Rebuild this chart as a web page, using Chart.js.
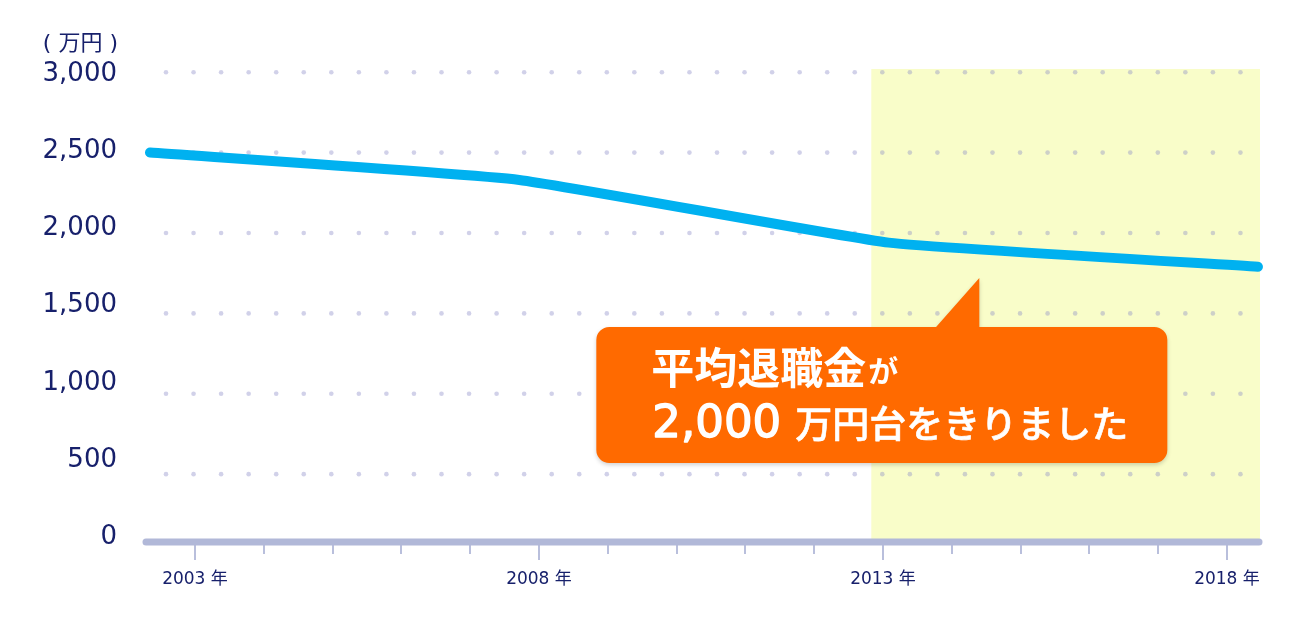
<!DOCTYPE html>
<html lang="ja">
<head>
<meta charset="utf-8">
<title>平均退職金の推移</title>
<script src="https://cdn.jsdelivr.net/npm/chart.js@4.4.1/dist/chart.umd.min.js"></script>
<style>
    html, body { margin: 0; padding: 0; background: #fff; }
    #wrap { width: 1300px; height: 620px; }
</style>
</head>
<body>
<div id="wrap"><canvas id="chart"></canvas></div>
<script>
// Data
const years = [2003, 2008, 2013, 2018];
const retirementPay = [2500, 2330, 1940, 1790];

// Axis labels / ticks
const yearTicks = [2003, 2008, 2013, 2018];
const minorYears = [2004, 2005, 2006, 2007, 2009, 2010, 2011, 2012, 2014, 2015, 2016, 2017];
const valueTicks = [0, 500, 1000, 1500, 2000, 2500, 3000];
const gridValues = [500, 1000, 1500, 2000, 2500, 3000];
const unitLabel = '( 万円 )';
const yearSuffix = ' 年';

// Highlighted period (from just before 2013 to the end)
const highlightFrom = 2012.83;

// Callout text and where its pointer tip sits (tick axis year, value)
const calloutTitle = '平均退職金';
const calloutTitleTail = 'が';
const calloutAmount = '2,000';
const calloutTail = '万円台をきりました';
const calloutTip = { year: 2014.4, value: 1720 };

const NAVY = '#17206b';

const decorPlugin = {
    id: 'decor',
    beforeDatasetsDraw(chart) {
        const { ctx, chartArea: a, scales } = chart;
        const xt = scales.x;
        const yd = scales.y;
        ctx.save();

        // yellow highlight band
        const bx = xt.getPixelForValue(highlightFrom);
        ctx.fillStyle = '#f9fdc9';
        ctx.fillRect(bx, a.top, a.right + 1 - bx, a.bottom - a.top);

        // dotted grid rows
        ctx.fillStyle = 'rgba(140, 140, 200, 0.4)';
        gridValues.forEach(v => {
            const y = yd.getPixelForValue(v);
            for (let x = a.left + 20; x < a.right - 10; x += 27.55) {
                ctx.beginPath();
                ctx.arc(x, y, 2.3, 0, Math.PI * 2);
                ctx.fill();
            }
        });

        // tick marks under the axis
        ctx.strokeStyle = '#b9bfdc';
        ctx.lineWidth = 2;
        yearTicks.concat(minorYears).forEach(yr => {
            const x = Math.round(xt.getPixelForValue(yr));
            const len = yearTicks.includes(yr) ? 18 : 12;
            ctx.beginPath();
            ctx.moveTo(x, a.bottom);
            ctx.lineTo(x, a.bottom + len);
            ctx.stroke();
        });

        // thick axis line
        ctx.strokeStyle = '#b1b8d8';
        ctx.lineWidth = 7;
        ctx.lineCap = 'round';
        ctx.beginPath();
        ctx.moveTo(a.left, a.bottom);
        ctx.lineTo(a.right, a.bottom);
        ctx.stroke();

        ctx.restore();
    },
    afterDraw(chart) {
        const { ctx, scales } = chart;
        ctx.save();

        // unit label
        ctx.fillStyle = NAVY;
        ctx.font = '22px "DejaVu Sans", "Noto Sans CJK JP"';
        ctx.textAlign = 'right';
        ctx.textBaseline = 'middle';
        ctx.fillText(unitLabel, 118, 44);

        // callout bubble
        const tx = scales.x.getPixelForValue(calloutTip.year);
        const ty = scales.y.getPixelForValue(calloutTip.value);
        const left = tx - 383, right = tx + 188;
        const top = ty + 49, bottom = ty + 185;

        ctx.shadowColor = 'rgba(0, 0, 0, 0.18)';
        ctx.shadowBlur = 4;
        ctx.shadowOffsetY = 2;
        ctx.fillStyle = '#ff6a00';
        ctx.beginPath();
        ctx.roundRect(left, top, right - left, bottom - top, 13);
        ctx.moveTo(tx, ty);
        ctx.lineTo(tx, top + 2);
        ctx.lineTo(tx - 45, top + 2);
        ctx.closePath();
        ctx.fill();
        ctx.shadowColor = 'transparent';

        ctx.fillStyle = '#fff';
        ctx.strokeStyle = '#fff';
        ctx.lineJoin = 'round';
        ctx.textAlign = 'left';
        ctx.textBaseline = 'alphabetic';
        let x = left + 55;
        ctx.font = 'bold 43px "Noto Sans CJK JP"';
        ctx.fillText(calloutTitle, x, top + 57);
        x += ctx.measureText(calloutTitle).width + 2;
        ctx.font = 'bold 30px "Noto Sans CJK JP"';
        ctx.fillText(calloutTitleTail, x, top + 55);

        x = left + 56;
        ctx.font = '45px "DejaVu Sans"';
        ctx.lineWidth = 1.4;
        ctx.fillText(calloutAmount, x, top + 110);
        ctx.strokeText(calloutAmount, x, top + 110);
        x += ctx.measureText(calloutAmount).width + 14;
        ctx.font = '500 37px "Noto Sans CJK JP"';
        ctx.lineWidth = 0.6;
        ctx.fillText(calloutTail, x, top + 111);
        ctx.strokeText(calloutTail, x, top + 111);

        ctx.restore();
    }
};

const ctx = document.getElementById('chart').getContext('2d');
const chart = new Chart(ctx, {
    type: 'line',
    data: {
        datasets: [{
            label: '平均退職金',
            data: years.map((yr, i) => ({ x: yr, y: retirementPay[i] })),
            xAxisID: 'xLine',
            yAxisID: 'y',
            borderColor: '#00b1f0',
            borderWidth: 10,
            borderCapStyle: 'round',
            borderJoinStyle: 'round',
            tension: 0.12,
            pointRadius: 0,
            fill: false,
            clip: false
        }]
    },
    options: {
        responsive: true,
        maintainAspectRatio: false,
        animation: false,
        layout: { padding: { top: 69, right: 41, left: 0, bottom: 0 } },
        plugins: {
            legend: { display: false },
            tooltip: { enabled: false }
        },
        scales: {
            // visible year axis (labels only, ticks drawn by plugin)
            x: {
                type: 'linear',
                position: 'bottom',
                min: 2002.288,
                max: 2018.465,
                afterBuildTicks: s => { s.ticks = yearTicks.map(v => ({ value: v })); },
                afterFit: s => { s.height = 78; },
                grid: { display: false, drawTicks: false },
                border: { display: false },
                ticks: {
                    autoSkip: false,
                    maxRotation: 0,
                    padding: 27,
                    color: NAVY,
                    font: { family: '"DejaVu Sans", "Noto Sans CJK JP"', size: 17 },
                    callback: v => v + yearSuffix
                }
            },
            // axis the line is plotted on
            xLine: {
                type: 'linear',
                display: false,
                min: 2002.946,
                max: 2018.014
            },
            // value axis the line and dotted rows use (axis line sits a bit above zero)
            y: {
                type: 'linear',
                display: false,
                min: 78,
                max: 3020
            },
            // visible value labels
            yLabels: {
                type: 'linear',
                position: 'left',
                min: -30,
                max: 3032,
                afterBuildTicks: s => { s.ticks = valueTicks.map(v => ({ value: v })); },
                afterFit: s => { s.width = 146; },
                grid: { display: false, drawTicks: false },
                border: { display: false },
                ticks: {
                    padding: 29,
                    color: NAVY,
                    font: { family: '"DejaVu Sans"', size: 26 },
                    callback: v => v.toLocaleString('en-US')
                }
            }
        }
    },
    plugins: [decorPlugin]
});
</script>
</body>
</html>
